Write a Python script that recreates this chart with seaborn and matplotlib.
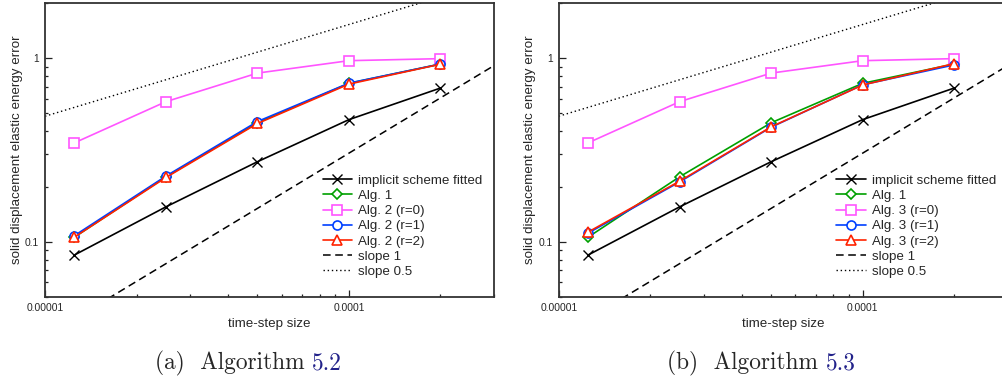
import matplotlib
matplotlib.use("Agg")
import matplotlib.pyplot as plt
import seaborn as sns
import pandas as pd
from matplotlib.ticker import FixedLocator, FixedFormatter, NullFormatter

# ---------------- data ----------------
dt = [1.25e-5, 2.5e-5, 5e-5, 1e-4, 2e-4]
implicit = [0.0847, 0.155, 0.273, 0.463, 0.688]
alg1 = [0.106, 0.226, 0.445, 0.730, 0.930]
alg2_r0 = [0.346, 0.580, 0.830, 0.970, 0.995]
alg2_r1 = [0.108, 0.228, 0.452, 0.732, 0.930]
alg2_r2 = [0.106, 0.224, 0.441, 0.723, 0.928]
alg3_r0 = [0.346, 0.580, 0.830, 0.970, 0.995]
alg3_r1 = [0.1115, 0.212, 0.421, 0.717, 0.920]
alg3_r2 = [0.113, 0.214, 0.423, 0.715, 0.935]
slope1_x = [1e-5, 3e-4]
slope1_y = [0.0304, 0.912]
slope05_x = [1e-5, 3e-4]
slope05_y = [0.483, 2.645]

xtick_vals = [1e-5, 1e-4]
xtick_labels = ["0.00001", "0.0001"]
ytick_vals = [0.1, 1]
ytick_labels = ["0.1", "1"]
xlabel = "time-step size"
ylabel = "solid displacement elastic energy error"
captions = [("(a)  Algorithm ", "5.2"), ("(b)  Algorithm ", "5.3")]

panels = [
    [("implicit scheme fitted", implicit), ("Alg. 1", alg1), ("Alg. 2 (r=0)", alg2_r0),
     ("Alg. 2 (r=1)", alg2_r1), ("Alg. 2 (r=2)", alg2_r2)],
    [("implicit scheme fitted", implicit), ("Alg. 1", alg1), ("Alg. 3 (r=0)", alg3_r0),
     ("Alg. 3 (r=1)", alg3_r1), ("Alg. 3 (r=2)", alg3_r2)],
]
styles = [
    dict(color="black", marker="x", markersize=7.5, markeredgewidth=1.0,
         markeredgecolor="black"),
    dict(color="#00a000", marker="D", markersize=5.5, markeredgewidth=1.2,
         markeredgecolor="#00a000", markerfacecolor="white"),
    dict(color="#ff55ff", marker="s", markersize=6.5, markeredgewidth=1.2,
         markeredgecolor="#ff55ff", markerfacecolor="white"),
    dict(color="#0040ff", marker="o", markersize=6.5, markeredgewidth=1.2,
         markeredgecolor="#0040ff", markerfacecolor="white"),
    dict(color="#ff2200", marker="^", markersize=7, markeredgewidth=1.2,
         markeredgecolor="#ff2200", markerfacecolor="white"),
]

sns.set_style("ticks")
plt.rcParams["font.family"] = ["Liberation Sans", "DejaVu Sans"]

W, H = 1003, 380
fig = plt.figure(figsize=(W / 100, H / 100), dpi=100)

ax_boxes = [(45, 3, 449, 294), (558.7, 3, 449, 294)]
cap_left = [155, 666.7]

for pi, (bx, by, bw, bh) in enumerate(ax_boxes):
    ax = fig.add_axes([bx / W, 1 - (by + bh) / H, bw / W, bh / H])
    for (lab, vals), st in zip(panels[pi], styles):
        df = pd.DataFrame({"x": dt, "y": vals})
        sns.lineplot(data=df, x="x", y="y", ax=ax, label=lab, linewidth=1.2, **st)
    sns.lineplot(x=slope1_x, y=slope1_y, ax=ax, color="black", linewidth=1.1,
                 linestyle=(0, (5, 3)), label="slope 1")
    sns.lineplot(x=slope05_x, y=slope05_y, ax=ax, color="black", linewidth=1.0,
                 linestyle=(0, (1, 2)), label="slope 0.5")
    ax.set_xscale("log")
    ax.set_yscale("log")
    ax.set_xlim(1e-5, 3e-4)
    ax.set_ylim(0.05, 2.0)
    ax.xaxis.set_major_locator(FixedLocator(xtick_vals))
    ax.xaxis.set_major_formatter(FixedFormatter(xtick_labels))
    ax.yaxis.set_major_locator(FixedLocator(ytick_vals))
    ax.yaxis.set_major_formatter(FixedFormatter(ytick_labels))
    ax.xaxis.set_minor_formatter(NullFormatter())
    ax.yaxis.set_minor_formatter(NullFormatter())
    ax.tick_params(which="both", direction="in", top=False, right=False,
                   width=0.9, color="#222222")
    ax.tick_params(which="major", length=5, labelsize=7.4, pad=4.5)
    ax.tick_params(which="minor", length=2.5)
    for s in ax.spines.values():
        s.set_linewidth(1.3)
        s.set_color("#333333")
        s.set_visible(True)
    ax.set_xlabel(xlabel, fontsize=9.6, va="top")
    ax.set_ylabel(ylabel, fontsize=9.6)
    ax.xaxis.set_label_coords(0.5, -0.072)
    ax.yaxis.set_label_coords(-0.05, 0.5)
    leg = ax.legend(loc="upper left", bbox_to_anchor=(0.6185, 0.416), frameon=False,
                    fontsize=9.6, handlelength=2.2, handletextpad=0.45,
                    labelspacing=0.21, borderpad=0, borderaxespad=0)
    # caption
    t1 = fig.text(cap_left[pi] / W, 1 - 369 / H, captions[pi][0], family="cmr10",
                  fontsize=16.8, va="baseline", ha="left")
    fig.canvas.draw()
    bb = t1.get_window_extent()
    fig.text(bb.x1 / W, 1 - 369 / H, captions[pi][1], family="cmr10",
             fontsize=16.8, va="baseline", ha="left", color="#22228a")

fig.savefig("out.png", dpi=100)
